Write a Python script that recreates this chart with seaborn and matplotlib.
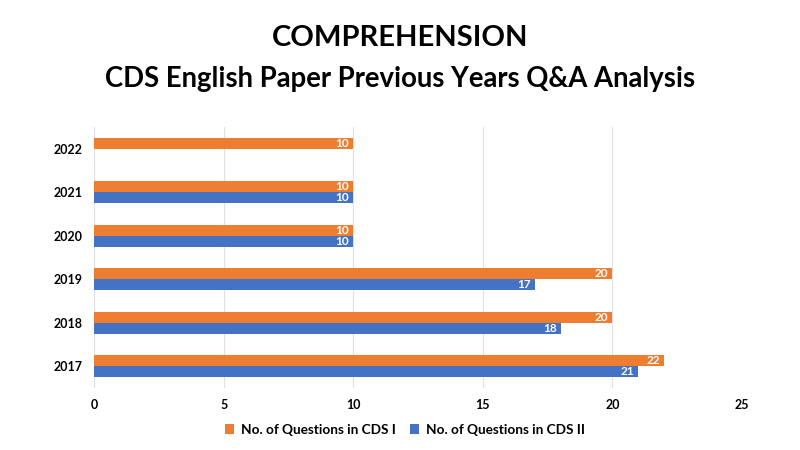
import numpy as np
import pandas as pd
import matplotlib
matplotlib.use("Agg")
import matplotlib.pyplot as plt
import seaborn as sns

years = ["2022", "2021", "2020", "2019", "2018", "2017"]
cds1 = [10, 10, 10, 20, 20, 22]
cds2 = [np.nan, 10, 10, 17, 18, 21]
series = ["No. of Questions in CDS I", "No. of Questions in CDS II"]
xticks = [0, 5, 10, 15, 20, 25]

sns.set_theme(style="white")
plt.rcParams["font.family"] = ["Lato", "DejaVu Sans"]
plt.rcParams["text.color"] = "black"
plt.rcParams["xtick.color"] = "black"
plt.rcParams["ytick.color"] = "black"

df = pd.DataFrame({
    "Year": years * 2,
    "Value": cds1 + cds2,
    "Series": [series[0]] * len(years) + [series[1]] * len(years),
})

fig = plt.figure(figsize=(8, 4.5), dpi=100)
ax = fig.add_axes([0.1175, 0.1378, 0.81, 0.58])
palette = {series[0]: "#ED7D31", series[1]: "#4472C4"}
sns.barplot(data=df, x="Value", y="Year", hue="Series", order=years,
            hue_order=series, palette=palette, orient="h", width=0.5,
            saturation=1, ax=ax, legend=True, linewidth=0)

for cont in ax.containers:
    for bar in cont:
        w = bar.get_width()
        if np.isnan(w) or w == 0:
            continue
        ax.text(w - 0.15, bar.get_y() + bar.get_height() / 2, f"{int(w)}",
                ha="right", va="center", color="white", fontsize=8.5,
                fontweight="bold")

ax.set_xlim(0, 25)
ax.set_ylim(5.5, -0.5)
ax.set_xticks(xticks)
ax.set_xticklabels([str(t) for t in xticks], fontweight="bold", fontsize=9)
for lab in ax.get_yticklabels():
    lab.set_fontweight("bold")
    lab.set_fontsize(9)
ax.tick_params(axis="both", length=0, pad=8)
ax.set_xlabel("")
ax.set_ylabel("")
ax.xaxis.grid(True, color="#E0E0E0", linewidth=0.8)
ax.set_axisbelow(True)
for s in ax.spines.values():
    s.set_visible(False)

leg = ax.legend(loc="upper center", bbox_to_anchor=(0.48, -0.09), ncol=2,
                frameon=False, fontsize=9.8, handlelength=0.7, handleheight=0.7,
                columnspacing=1.0, handletextpad=0.5)
for t in leg.get_texts():
    t.set_fontweight("bold")

fig.text(0.5, 0.915, "COMPREHENSION", ha="center", va="center",
         fontsize=21, fontweight="bold", color="black")
fig.text(0.5, 0.825, "CDS English Paper Previous Years Q&A Analysis",
         ha="center", va="center", fontsize=19.8, fontweight="bold",
         color="black")

fig.savefig("out.png", dpi=100)
